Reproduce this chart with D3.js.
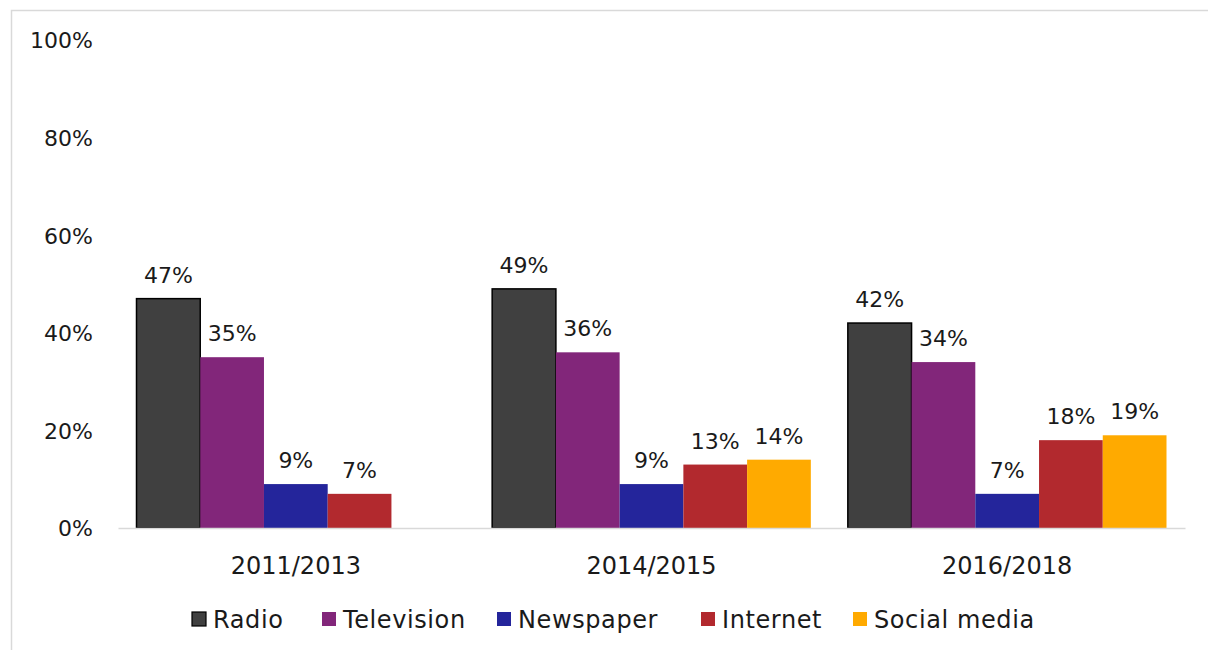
<!DOCTYPE html>
<html>
<head>
<meta charset="utf-8">
<script src="https://cdn.jsdelivr.net/npm/d3@7"></script>
<style>
  html, body { margin: 0; padding: 0; background: #fff; }
  svg text { font-family: "DejaVu Sans", sans-serif; fill: #1a1a1a; }
</style>
</head>
<body>
<svg id="chart" width="1208" height="650"></svg>
<script>
// Share of respondents by main news source, per survey period
const periods = ["2011/2013", "2014/2015", "2016/2018"];
const sources = ["Radio", "Television", "Newspaper", "Internet", "Social media"];
const radio = [47, 49, 42];
const television = [35, 36, 34];
const newspaper = [9, 9, 7];
const internet = [7, 13, 18];
const socialMedia = [null, 14, 19];
const yTicks = [0, 20, 40, 60, 80, 100];
const colors = ["#404040", "#82267a", "#24259b", "#b2292e", "#ffaa00"];

const seriesValues = [radio, television, newspaper, internet, socialMedia];

const svg = d3.select("#chart");
const W = 1208, H = 650;

// outer frame (only top and left edges fall inside the view)
svg.append("rect")
  .attr("x", 11.5).attr("y", 10.5)
  .attr("width", W + 20).attr("height", H + 20)
  .attr("fill", "#fff").attr("stroke", "#d9d9d9").attr("stroke-width", 1.5);

const plot = { left: 118, right: 1185, top: 40, bottom: 528 };
const groupPad = 18.5;

const x0 = d3.scaleBand().domain(periods).range([plot.left, plot.right]);
const x1 = d3.scaleBand().domain(sources).range([groupPad, x0.bandwidth() - groupPad]);
const y = d3.scaleLinear().domain([0, 100]).range([plot.bottom, plot.top]);

// y axis labels (no axis line, no gridlines)
const yAxis = d3.axisLeft(y).tickValues(yTicks).tickFormat(d => d + "%").tickSize(0).tickPadding(0);
const gy = svg.append("g").attr("transform", `translate(93,0)`).call(yAxis);
gy.select(".domain").remove();
gy.selectAll("text").attr("font-size", 22).attr("fill", "#1a1a1a")
  .style("font-family", '"DejaVu Sans", sans-serif').attr("dy", "0.36em");

// bars
const rows = [];
periods.forEach((p, i) => {
  sources.forEach((s, j) => {
    const v = seriesValues[j][i];
    if (v !== null) rows.push({ period: p, source: s, value: v, idx: j });
  });
});

svg.append("g").selectAll("rect").data(rows).join("rect")
  .attr("x", d => x0(d.period) + x1(d.source))
  .attr("y", d => y(d.value))
  .attr("width", x1.bandwidth())
  .attr("height", d => y(0) - y(d.value))
  .attr("fill", d => colors[d.idx])
  .attr("stroke", d => d.idx === 0 ? "#000" : "none")
  .attr("stroke-width", 1.5);

// baseline and period labels
const xAxis = d3.axisBottom(x0).tickSize(0).tickPadding(0);
const gx = svg.append("g").attr("transform", `translate(0,${plot.bottom})`).call(xAxis);
gx.select(".domain").attr("stroke", "#d9d9d9").attr("stroke-width", 1.5);
gx.selectAll("text").attr("font-size", 24).attr("fill", "#1a1a1a")
  .style("font-family", '"DejaVu Sans", sans-serif').attr("y", 46).attr("dy", 0);

// value labels
svg.append("g").selectAll("text").data(rows).join("text")
  .attr("x", d => x0(d.period) + x1(d.source) + x1.bandwidth() / 2)
  .attr("y", d => y(d.value) - 16)
  .attr("text-anchor", "middle")
  .attr("font-size", 22)
  .text(d => d.value + "%");

// legend
const legendX = [192, 322, 497, 701, 853];
const lg = svg.append("g");
const items = lg.selectAll("g").data(sources).join("g")
  .attr("transform", (d, i) => `translate(${legendX[i]},619)`);
items.append("rect")
  .attr("x", 0).attr("y", -7).attr("width", 14).attr("height", 14)
  .attr("fill", (d, i) => colors[i])
  .attr("stroke", (d, i) => i === 0 ? "#000" : "none")
  .attr("stroke-width", 1.2);
items.append("text")
  .attr("x", 21).attr("y", 0).attr("dy", "0.36em")
  .attr("font-size", 24)
  .attr("letter-spacing", 0.6)
  .text(d => d);
</script>
</body>
</html>
